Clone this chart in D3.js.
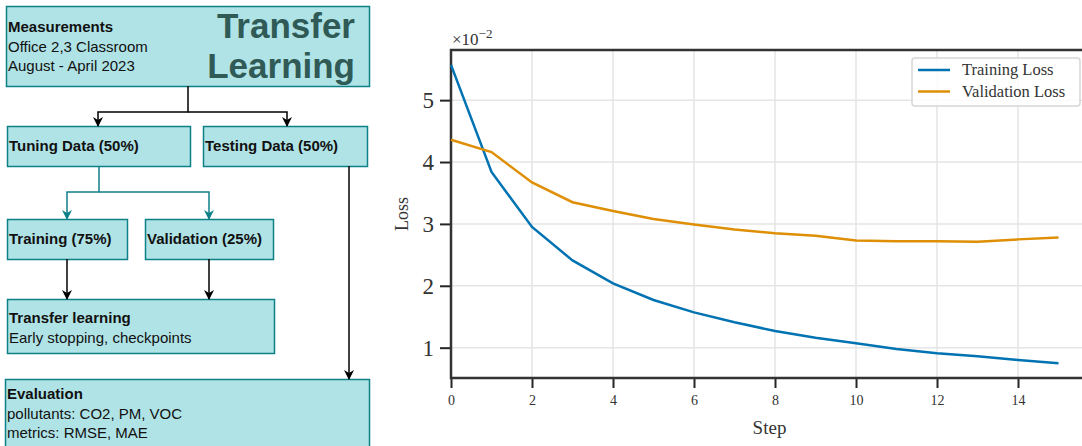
<!DOCTYPE html>
<html>
<head>
<meta charset="utf-8">
<script src="https://cdn.jsdelivr.net/npm/d3@7"></script>
<style>
  body { margin: 0; background: #fff; }
  svg { display: block; }
</style>
</head>
<body>
<svg id="fig" width="1082" height="446"></svg>
<script>
// loss curves (values in units of 1e-2)
const steps = d3.range(0, 16)
const trainingLoss = [5.57, 3.84, 2.95, 2.41, 2.04, 1.77, 1.57, 1.41, 1.27, 1.16, 1.07, 0.98, 0.91, 0.86, 0.80, 0.75]
const validationLoss = [4.36, 4.16, 3.67, 3.35, 3.21, 3.08, 2.99, 2.91, 2.85, 2.81, 2.73, 2.72, 2.72, 2.71, 2.75, 2.78]
const seriesNames = ['Training Loss', 'Validation Loss']
const seriesColors = ['#0173b2', '#de8f05']
const xTicks = [0, 2, 4, 6, 8, 10, 12, 14]
const yTicks = [1, 2, 3, 4, 5]

const svg = d3.select('#fig')

// ---------- flowchart ----------
const fill = '#b0e3e6'
const edge = '#0e8088'
const sans = 'Liberation Sans, Arial, sans-serif'

svg.append('defs').selectAll('marker')
  .data([['arrowBlack', '#000'], ['arrowTeal', edge]])
  .join('marker')
  .attr('id', d => d[0])
  .attr('viewBox', '0 0 10 10')
  .attr('refX', 9).attr('refY', 5)
  .attr('markerWidth', 10).attr('markerHeight', 10)
  .attr('markerUnits', 'userSpaceOnUse')
  .attr('orient', 'auto')
  .append('path')
  .attr('d', 'M0,0 L10,5 L0,10 L3,5 Z')
  .attr('fill', d => d[1])

const boxes = [
  {x: 6, y: 6, w: 363, h: 80, lines: [['Measurements', true], ['Office 2,3 Classroom'], ['August - April 2023']], ty: 32},
  {x: 7, y: 126, w: 183, h: 40, lines: [['Tuning Data (50%)', true]], ty: 151},
  {x: 203, y: 126, w: 164, h: 40, lines: [['Testing Data (50%)', true]], ty: 151},
  {x: 7, y: 219, w: 120, h: 40, lines: [['Training (75%)', true]], ty: 244},
  {x: 145, y: 219, w: 128, h: 40, lines: [['Validation (25%)', true]], ty: 244},
  {x: 7, y: 299, w: 267, h: 54, lines: [['Transfer learning', true], ['Early stopping, checkpoints']], ty: 323},
  {x: 5, y: 379, w: 364, h: 80, lines: [['Evaluation', true], ['pollutants: CO2, PM, VOC'], ['metrics: RMSE, MAE']], ty: 399}
]

const flow = svg.append('g')
flow.selectAll('rect')
  .data(boxes)
  .join('rect')
  .attr('x', d => d.x + 0.5).attr('y', d => d.y + 0.5)
  .attr('width', d => d.w).attr('height', d => d.h)
  .attr('fill', fill).attr('stroke', edge).attr('stroke-width', 1.5)

boxes.forEach(b => {
  flow.append('text')
    .attr('font-family', sans).attr('font-size', 15).attr('fill', '#111')
    .selectAll('tspan')
    .data(b.lines)
    .join('tspan')
    .attr('x', b.x + 2)
    .attr('y', (d, i) => b.ty + i * 19.5)
    .attr('font-weight', d => d[1] ? 'bold' : 'normal')
    .text(d => d[0])
})

flow.append('text')
  .attr('font-family', sans).attr('font-size', 35).attr('font-weight', 'bold')
  .attr('fill', '#2f5a56').attr('text-anchor', 'end')
  .selectAll('tspan')
  .data(['Transfer', 'Learning'])
  .join('tspan')
  .attr('x', 355)
  .attr('y', (d, i) => 38 + i * 40)
  .text(d => d)

const connectors = [
  {d: 'M188,86 V112 H98 V126', c: '#000', m: 'arrowBlack'},
  {d: 'M188,112 H287 V126', c: '#000', m: 'arrowBlack'},
  {d: 'M99,166 V192 H67 V219', c: edge, m: 'arrowTeal'},
  {d: 'M99,192 H209 V219', c: edge, m: 'arrowTeal'},
  {d: 'M67,259 V299', c: '#000', m: 'arrowBlack'},
  {d: 'M209,259 V299', c: '#000', m: 'arrowBlack'},
  {d: 'M349,166 V379', c: '#000', m: 'arrowBlack'}
]
flow.selectAll('path.conn')
  .data(connectors)
  .join('path')
  .attr('class', 'conn')
  .attr('d', d => d.d)
  .attr('fill', 'none')
  .attr('stroke', d => d.c)
  .attr('stroke-width', 1.5)
  .attr('marker-end', d => `url(#${d.m})`)

// ---------- loss chart ----------
const serif = 'Liberation Serif, DejaVu Serif, serif'
const pL = 451, pR = 1082, pT = 50, pB = 378

const x = d3.scaleLinear().domain([0, 15.58]).range([pL, pR])
const y = d3.scaleLinear().domain([0.51, 5.81]).range([pB, pT])

const chart = svg.append('g')

// grid
chart.append('g')
  .selectAll('line')
  .data(xTicks)
  .join('line')
  .attr('x1', d => x(d)).attr('x2', d => x(d))
  .attr('y1', pT).attr('y2', pB)
  .attr('stroke', '#e5e5e5').attr('stroke-width', 1.5)
chart.append('g')
  .selectAll('line')
  .data(yTicks)
  .join('line')
  .attr('x1', pL).attr('x2', pR)
  .attr('y1', d => y(d)).attr('y2', d => y(d))
  .attr('stroke', '#e5e5e5').attr('stroke-width', 1.5)

// axes
const xAxis = chart.append('g')
  .attr('transform', `translate(0,${pB})`)
  .call(d3.axisBottom(x).tickValues(xTicks).tickSize(10).tickPadding(7))
xAxis.selectAll('text').attr('font-family', serif).attr('font-size', 14).attr('fill', '#333')

const yAxis = chart.append('g')
  .attr('transform', `translate(${pL},0)`)
  .call(d3.axisLeft(y).tickValues(yTicks).tickFormat(d3.format('d')).tickSize(11).tickPadding(6))
yAxis.selectAll('text').attr('font-family', serif).attr('font-size', 23).attr('fill', '#333')

chart.selectAll('.domain').remove()
chart.selectAll('.tick line').attr('stroke', '#262626').attr('stroke-width', 2)

// spines
chart.append('path')
  .attr('d', `M${pR},${pT} H${pL} V${pB} H${pR}`)
  .attr('fill', 'none').attr('stroke', '#333').attr('stroke-width', 2.5)

// lines
const series = [trainingLoss, validationLoss]
const line = d3.line().x((d, i) => x(steps[i])).y(d => y(d))
chart.selectAll('path.series')
  .data(series)
  .join('path')
  .attr('class', 'series')
  .attr('d', line)
  .attr('fill', 'none')
  .attr('stroke', (d, i) => seriesColors[i])
  .attr('stroke-width', 2.5)

// labels
chart.append('text')
  .attr('x', pL + 1).attr('y', 45)
  .attr('font-family', serif).attr('font-size', 17).attr('fill', '#333')
  .html('×10<tspan dy="-7" font-size="13">−2</tspan>')

chart.append('text')
  .attr('transform', `translate(408,${(pT + pB) / 2}) rotate(-90)`)
  .attr('text-anchor', 'middle')
  .attr('font-family', serif).attr('font-size', 18).attr('fill', '#333')
  .text('Loss')

chart.append('text')
  .attr('x', (pL + pR) / 2 + 3).attr('y', 434)
  .attr('text-anchor', 'middle')
  .attr('font-family', serif).attr('font-size', 19).attr('fill', '#333')
  .text('Step')

// legend
const legend = chart.append('g').attr('transform', 'translate(912,58)')
legend.append('rect')
  .attr('width', 168).attr('height', 48).attr('rx', 3)
  .attr('fill', 'rgba(255,255,255,0.85)').attr('stroke', '#d6d6d6').attr('stroke-width', 1.5)
const items = legend.selectAll('g.item')
  .data(seriesNames)
  .join('g')
  .attr('class', 'item')
  .attr('transform', (d, i) => `translate(0,${12 + i * 21.5})`)
items.append('line')
  .attr('x1', 6).attr('x2', 38)
  .attr('stroke', (d, i) => seriesColors[i]).attr('stroke-width', 2.5)
items.append('text')
  .attr('x', 50).attr('y', 5)
  .attr('font-family', serif).attr('font-size', 16.5).attr('fill', '#333')
  .text(d => d)
</script>
</body>
</html>
